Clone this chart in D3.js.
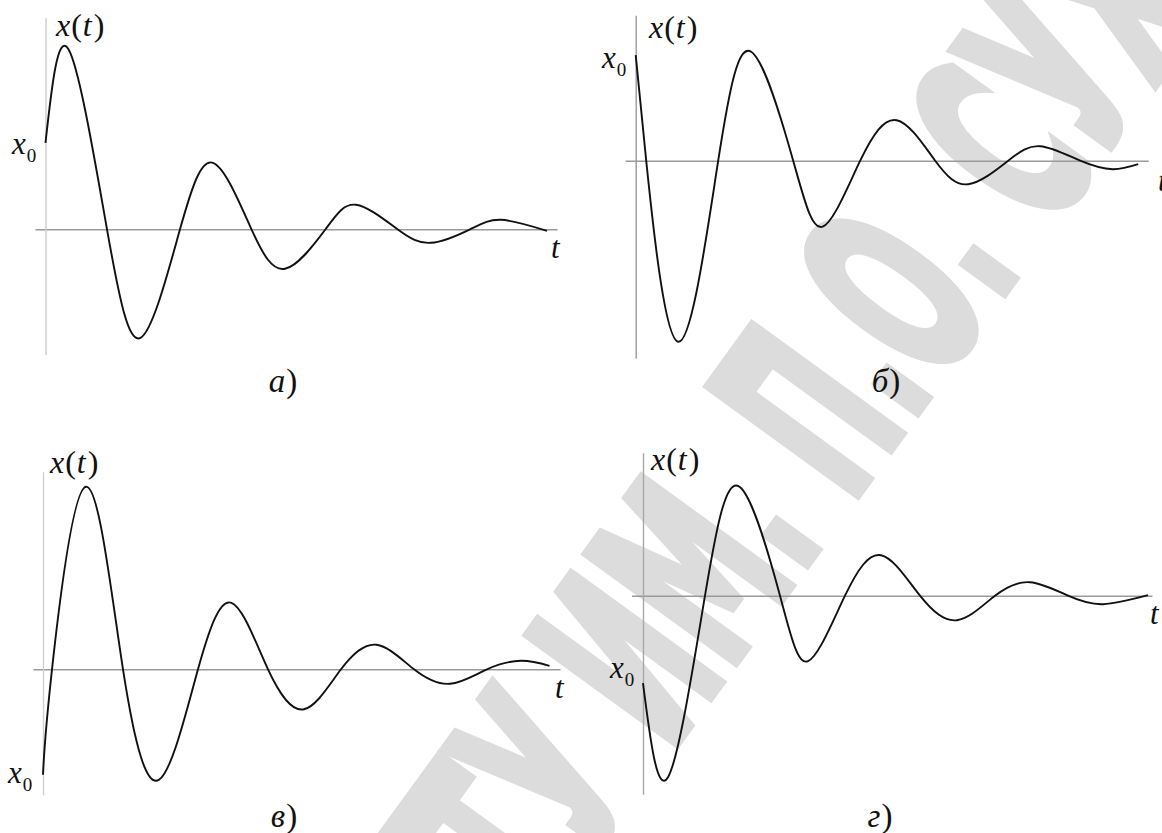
<!DOCTYPE html>
<html>
<head>
<meta charset="utf-8">
<script src="https://cdn.jsdelivr.net/npm/d3@7"></script>
<style>
  html, body { margin: 0; padding: 0; background: #fff; }
  svg { display: block; }
  .serif { font-family: "Liberation Serif", "Times New Roman", serif; }
</style>
</head>
<body>
<svg id="chart" width="1162" height="833"></svg>
<script>
// Damped free oscillations x(t) for four initial conditions.
// Each series lists turning points and zero crossings: time t and displacement x.
const tA = [0, 0.46, 1.23, 1.90, 2.69, 3.35, 4.12, 4.79, 5.60, 6.21, 7.04, 7.71, 8.49, 9.11, 10.03];
const xA = [1.73, 3.60, 0, -2.17, 0, 1.33, 0, -0.79, 0, 0.49, 0, -0.27, 0, 0.19, -0.03];

const tB = [0, 0.21, 0.85, 1.65, 2.31, 3.15, 3.74, 4.49, 5.22, 5.99, 6.65, 7.45, 8.09, 8.89, 9.54, 10.05];
const xB = [2.11, 0, -3.62, 0, 2.18, 0, -1.32, 0, 0.81, 0, -0.47, 0, 0.29, 0, -0.17, -0.07];

const tC = [0, 0.18, 0.86, 1.60, 2.32, 3.10, 3.77, 4.50, 5.22, 5.96, 6.67, 7.42, 8.14, 8.88, 9.56, 10.13];
const xC = [-2.11, 0, 3.65, 0, -2.21, 0, 1.33, 0, -0.80, 0, 0.49, 0, -0.29, 0, 0.17, 0.07];

const tD = [0, 0.50, 1.24, 1.91, 2.74, 3.30, 4.04, 4.76, 5.54, 6.28, 7.04, 7.74, 8.50, 9.20, 10.10];
const xD = [-1.75, -3.63, 0, 2.19, 0, -1.31, 0, 0.81, 0, -0.49, 0, 0.27, 0, -0.17, 0.01];

// Axis extents of each panel (time, displacement)
const tExtent = [[-0.21, 10.23], [-0.21, 10.25], [-0.20, 10.34], [-0.23, 10.18]];
const xExtent = [[-2.51, 4.23], [-3.95, 2.91], [-2.51, 3.95], [-3.97, 2.86]];

const captions = ["а)", "б)", "в)", "г)"];
const watermarkText = "ГГТУ ИМ. П.О. СУХОГО";

const seriesT = [tA, tB, tC, tD];
const seriesX = [xA, xB, xC, xD];

// Panel placement: origin of the axes, pixels per unit, label anchors
const UNIT = 50;
const layout = [
  { ox: 45.5, oy: 229.3, vAxis: "#cdcdcd",
    xt: [56, 36], x0: [12, 154], tl: [551, 258], cap: [283, 392] },
  { ox: 635.7, oy: 160.7, vAxis: "#9a9a9a",
    xt: [649, 38], x0: [602, 68], tl: [1158, 191], cap: [886, 392] },
  { ox: 43, oy: 669.3, vAxis: "#d0d0d0",
    xt: [50, 473], x0: [8, 783], tl: [555, 698], cap: [284, 827] },
  { ox: 643, oy: 595.7, vAxis: "#a8a8a8",
    xt: [651, 470], x0: [610, 678], tl: [1150, 624], cap: [880, 827] }
];

const svg = d3.select("#chart");
svg.append("rect").attr("width", 1162).attr("height", 833).attr("fill", "#fff");

// Diagonal watermark
const wm = svg.append("g")
  .attr("transform", "translate(805,410) rotate(-54) scale(0.48,1)");
const wmText = wm.append("text")
  .attr("font-family", "'DejaVu Sans', sans-serif")
  .attr("font-weight", "bold")
  .attr("font-size", 250)
  .attr("fill", "#dcdcdc")
  .attr("stroke", "#dcdcdc")
  .attr("stroke-width", 9)
  .attr("stroke-linejoin", "miter")
  .attr("vector-effect", "non-scaling-stroke")
  .attr("y", 91)
  .text(watermarkText);
{
  const idx = watermarkText.indexOf("П");
  const ext = wmText.node().getExtentOfChar(idx);
  wmText.attr("x", -(ext.x + ext.width / 2));
}

layout.forEach((L, i) => {
  const [t0, t1] = tExtent[i];
  const [v0, v1] = xExtent[i];
  const x = d3.scaleLinear().domain([t0, t1]).range([L.ox + t0 * UNIT, L.ox + t1 * UNIT]);
  const y = d3.scaleLinear().domain([v0, v1]).range([L.oy - v0 * UNIT, L.oy - v1 * UNIT]);

  const g = svg.append("g");

  // time axis through x = 0
  const ax = g.append("g")
    .attr("transform", `translate(0,${y(0)})`)
    .call(d3.axisBottom(x).tickValues([]).tickSizeOuter(0));
  ax.select(".domain").attr("stroke", "#9a9a9a").attr("stroke-width", 1.4);

  // displacement axis at t = 0
  const ay = g.append("g")
    .attr("transform", `translate(${x(0)},0)`)
    .call(d3.axisLeft(y).tickValues([]).tickSizeOuter(0));
  ay.select(".domain").attr("stroke", L.vAxis).attr("stroke-width", 1.4);

  const pts = seriesT[i].map((t, k) => ({ t, v: seriesX[i][k] }));
  const line = d3.line()
    .x(d => x(d.t))
    .y(d => y(d.v))
    .curve(d3.curveNatural);

  g.append("path")
    .datum(pts)
    .attr("d", line)
    .attr("fill", "none")
    .attr("stroke", "#111")
    .attr("stroke-width", 1.9)
    .attr("stroke-linejoin", "round");

  // x(t)
  const xt = g.append("text").attr("class", "serif")
    .attr("x", L.xt[0]).attr("y", L.xt[1])
    .attr("font-size", 32).attr("fill", "#111");
  xt.append("tspan").attr("font-style", "italic").text("x");
  xt.append("tspan").attr("dx", 1).text("(");
  xt.append("tspan").attr("font-style", "italic").attr("dx", 1).text("t");
  xt.append("tspan").attr("dx", 2).text(")");

  // x0
  const x0 = g.append("text").attr("class", "serif")
    .attr("x", L.x0[0]).attr("y", L.x0[1])
    .attr("font-size", 31).attr("fill", "#111");
  x0.append("tspan").attr("font-style", "italic").text("x");
  x0.append("tspan").attr("font-size", 19).attr("dy", 8).attr("dx", 1).text("0");

  // t
  g.append("text").attr("class", "serif")
    .attr("x", L.tl[0]).attr("y", L.tl[1])
    .attr("font-size", 31).attr("font-style", "italic")
    .attr("fill", "#111").text("t");

  // caption
  const cap = g.append("text").attr("class", "serif")
    .attr("x", L.cap[0]).attr("y", L.cap[1])
    .attr("text-anchor", "middle")
    .attr("font-size", 33).attr("fill", "#111");
  cap.append("tspan").attr("font-style", "italic").text(captions[i].slice(0, 1));
  cap.append("tspan").attr("dx", 1).text(captions[i].slice(1));
});
</script>
</body>
</html>
